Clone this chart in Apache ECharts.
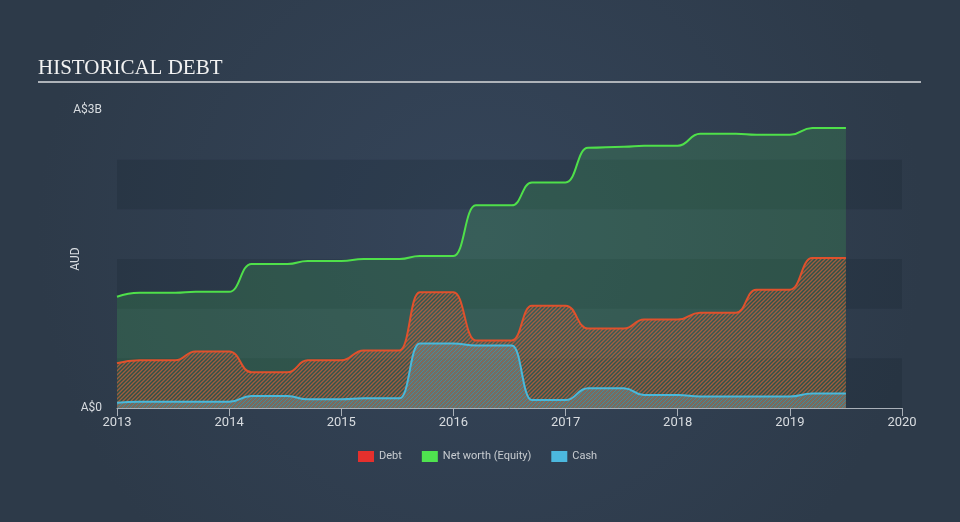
<!DOCTYPE html>
<html>
<head>
<meta charset="utf-8">
<script src="https://cdn.jsdelivr.net/npm/echarts@6/dist/echarts.min.js"></script>
<style>
html,body{margin:0;padding:0;background:#303e4f;}
#chart{width:960px;height:522px;}
</style>
</head>
<body>
<div id="chart"></div>
<script>
// Time points (fractional years)
const times = [2013.0, 2013.2, 2013.52, 2013.7, 2014.0, 2014.2, 2014.52, 2014.7,
  2015.0, 2015.2, 2015.52, 2015.7, 2016.0, 2016.2, 2016.52, 2016.7,
  2017.0, 2017.2, 2017.52, 2017.7, 2018.0, 2018.2, 2018.52, 2018.7,
  2019.0, 2019.2, 2019.5];
// Values in A$ billions
const debt = [0.45, 0.48, 0.48, 0.57, 0.57, 0.36, 0.36, 0.48,
  0.48, 0.58, 0.58, 1.165, 1.165, 0.68, 0.68, 1.03,
  1.03, 0.80, 0.80, 0.89, 0.89, 0.96, 0.96, 1.19,
  1.19, 1.51, 1.51];
const equity = [1.12, 1.16, 1.16, 1.17, 1.17, 1.45, 1.45, 1.48,
  1.48, 1.50, 1.50, 1.53, 1.53, 2.04, 2.04, 2.27,
  2.27, 2.62, 2.63, 2.64, 2.64, 2.76, 2.76, 2.75,
  2.75, 2.82, 2.82];
const cash = [0.053, 0.063, 0.063, 0.063, 0.063, 0.12, 0.12, 0.087,
  0.087, 0.097, 0.097, 0.65, 0.65, 0.63, 0.63, 0.08,
  0.08, 0.20, 0.20, 0.13, 0.13, 0.115, 0.115, 0.115,
  0.115, 0.145, 0.145];
const seriesNames = ['Debt', 'Net worth (Equity)', 'Cash'];
const xTicks = [2013, 2014, 2015, 2016, 2017, 2018, 2019, 2020];

function hatch(color, base, offset) {
  const s = 4;
  const c = document.createElement('canvas');
  c.width = s; c.height = s;
  const g = c.getContext('2d');
  if (base) { g.fillStyle = base; g.fillRect(0, 0, s, s); }
  g.strokeStyle = color;
  g.lineWidth = 1.4;
  g.translate(offset || 0, 0);
  g.beginPath();
  for (let k = -2; k <= 2; k++) {
    g.moveTo(k * s - 1, s + 1); g.lineTo(k * s + s + 1, -1);
  }
  g.stroke();
  return c;
}

const pair = arr => times.map((t, i) => [t, arr[i]]);
const chart = echarts.init(document.getElementById('chart'), null, {renderer: 'canvas'});
const labelColor = '#d8dce0';

chart.setOption({
  backgroundColor: {
    type: 'radial', x: 0.5, y: 0.45, r: 0.85,
    colorStops: [{offset: 0, color: '#35455a'}, {offset: 1, color: '#2d3a49'}]
  },
  animation: false,
  graphic: [
    {type: 'text', left: 38, top: 58, style: {text: 'HISTORICAL DEBT', fill: '#f2f2f2', font: '21px "Liberation Serif", "Times New Roman", serif'}},
    {type: 'rect', shape: {x: 38, y: 81, width: 883, height: 2}, style: {fill: '#aeb3b9'}}
  ],
  grid: {left: 117, right: 58, top: 110, bottom: 114},
  legend: {
    left: 353, top: 446, itemWidth: 16, itemHeight: 11, itemGap: 20,
    icon: 'rect',
    textStyle: {color: '#c8ccd0', fontSize: 11, fontFamily: 'Roboto, sans-serif'},
    data: [
      {name: 'Debt', itemStyle: {color: '#e5302d'}},
      {name: 'Net worth (Equity)', itemStyle: {color: '#4fe34f'}},
      {name: 'Cash', itemStyle: {color: '#4cb8de'}}
    ]
  },
  xAxis: {
    type: 'value', min: 2013, max: 2020, interval: 1,
    axisLine: {show: true, lineStyle: {color: '#a9b0b8', width: 1}},
    axisTick: {show: true, length: 8, lineStyle: {color: '#a9b0b8'}},
    axisLabel: {color: labelColor, fontSize: 13, margin: 8, fontFamily: 'Roboto, sans-serif',
      formatter: v => String(v)},
    splitLine: {show: false}
  },
  yAxis: {
    type: 'value', min: 0, max: 3, interval: 0.5,
    name: 'AUD', nameLocation: 'middle', nameRotate: 90, nameGap: 35, nameMoveOverlap: false,
    nameTextStyle: {color: labelColor, fontSize: 12, fontFamily: 'Roboto, sans-serif'},
    axisLine: {show: false}, axisTick: {show: false},
    axisLabel: {color: labelColor, fontSize: 12, margin: 15, fontFamily: 'Roboto, sans-serif',
      formatter: v => v === 0 ? 'A$0' : (v === 3 ? 'A$3B' : '')},
    splitLine: {show: false},
    splitArea: {show: true, areaStyle: {color: ['rgba(10,18,28,0.14)', 'rgba(0,0,0,0)']}}
  },
  series: [
    {
      name: seriesNames[1], type: 'line', data: pair(equity), symbol: 'none',
      smooth: 0.5, smoothMonotone: 'x', z: 2,
      itemStyle: {color: '#4fe34f'},
      lineStyle: {color: '#4fe04a', width: 2},
      areaStyle: {color: 'rgba(70,210,90,0.26)', origin: 'start'}
    },
    {
      name: seriesNames[0], type: 'line', data: pair(debt), symbol: 'none',
      smooth: 0.5, smoothMonotone: 'x', z: 3,
      itemStyle: {color: '#e5302d'},
      lineStyle: {color: '#e0512c', width: 2},
      areaStyle: {color: {image: hatch('rgba(205,95,60,0.72)', null, 0), repeat: 'repeat'}, opacity: 1, origin: 'start'}
    },
    {
      name: seriesNames[2], type: 'line', data: pair(cash), symbol: 'none',
      smooth: 0.5, smoothMonotone: 'x', z: 4,
      itemStyle: {color: '#4cb8de'},
      lineStyle: {color: '#4ab8da', width: 2},
      areaStyle: {color: {image: hatch('rgba(105,170,185,0.55)', 'rgba(95,120,125,0.25)', 2), repeat: 'repeat'}, opacity: 1, origin: 'start'}
    }
  ]
});
</script>
</body>
</html>
